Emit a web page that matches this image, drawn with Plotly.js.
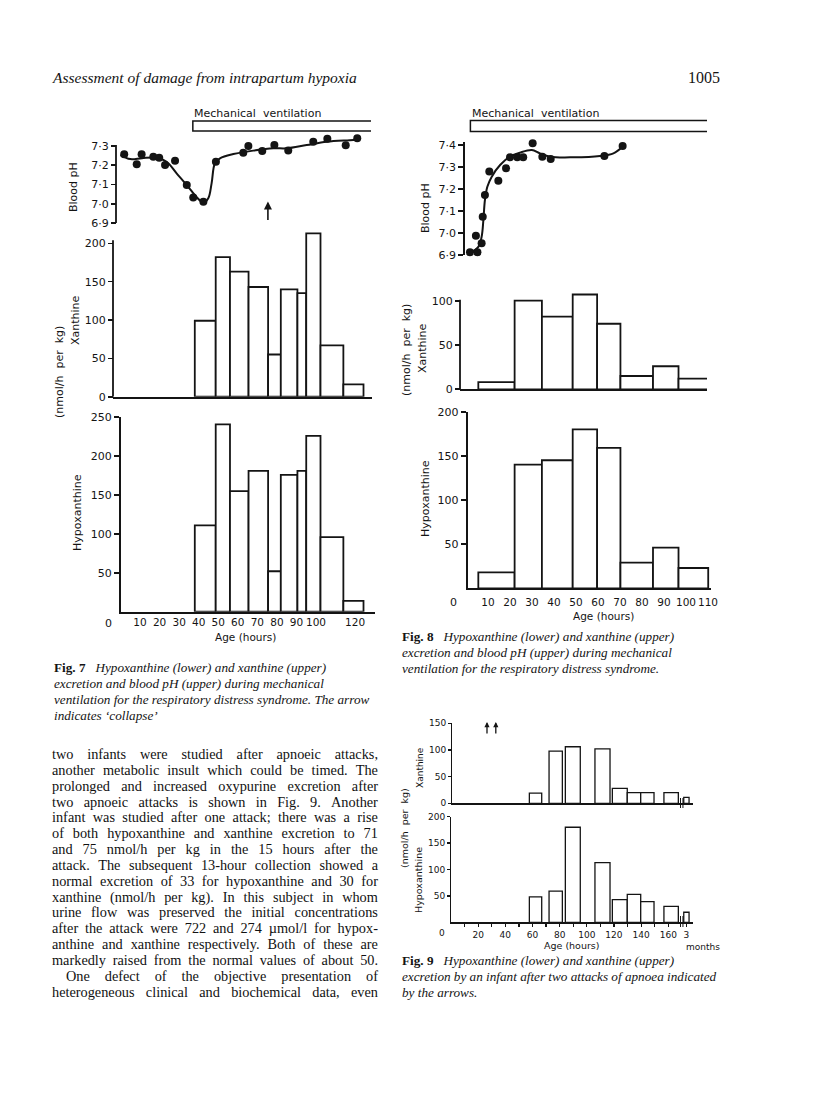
<!DOCTYPE html>
<html><head><meta charset="utf-8">
<script src="https://cdn.plot.ly/plotly-3.0.1.min.js"></script>
<style>
html,body{margin:0;padding:0;background:#fff;}
#page{position:relative;width:816px;height:1096px;overflow:hidden;}
#chart{position:absolute;left:0;top:0;width:816px;height:1096px;}
#body{position:absolute;left:52px;top:747px;width:326px;font-family:"Liberation Serif",serif;font-size:14.3px;color:#111;}
#body .ln{display:flex;justify-content:space-between;white-space:nowrap;height:15.85px;line-height:15.85px;}
#body .ind{padding-left:14px;}
</style></head>
<body><div id="page"><div id="chart"></div><div id="body"></div></div>
<script>
// ---------------- DATA ----------------
// Fig. 7 : blood pH samples (age in hours) and fitted curve
const fig7PhAge = [1.9, 8.3, 10.8, 16.8, 19.8, 22.8, 27.9, 33.9, 37.2, 42.4, 48.8, 62.8, 65.4, 72.5, 78.7, 85.8, 98.6, 105.8, 115.2, 121.1];
const fig7Ph    = [7.257, 7.205, 7.257, 7.244, 7.239, 7.201, 7.224, 7.097, 7.033, 7.011, 7.218, 7.265, 7.30, 7.274, 7.305, 7.276, 7.322, 7.338, 7.304, 7.340];
const fig7CurveAge = [0, 5, 11, 18.5, 23.6, 28.7, 33.9, 39, 42.4, 44.9, 46.6, 48.3, 50.9, 57.7, 67.9, 78.2, 85, 95.2, 105.5, 119.1, 122.5];
const fig7CurvePh  = [7.253, 7.232, 7.237, 7.239, 7.218, 7.158, 7.097, 7.034, 7.005, 7.028, 7.106, 7.21, 7.236, 7.258, 7.276, 7.288, 7.288, 7.305, 7.322, 7.331, 7.335];
// Fig. 7 : urine collection periods (hours) and excretion (nmol/h per kg)
const fig7BinStart = [38.0, 48.7, 56.0, 65.5, 75.5, 82.0, 90.5, 95.0, 102.3, 114.0];
const fig7BinEnd   = [48.7, 56.0, 65.5, 75.5, 82.0, 90.5, 95.0, 102.3, 114.0, 124.3];
const fig7Xanthine     = [99, 182, 163, 143, 55, 140, 135, 213, 67, 16];
const fig7Hypoxanthine = [111, 241, 155, 181, 52, 176, 181, 226, 96, 14];
const fig7VentStart = 37;      // start of mechanical ventilation (h)
const fig7CollapseAge = 75.4;  // arrow: 'collapse'

// Fig. 8
const fig8PhAge = [1.8, 5.2, 4.5, 7.1, 7.6, 8.6, 10.6, 14.7, 18.2, 20, 23.3, 26, 30.3, 34.7, 38.5, 62.9, 71.2];
const fig8Ph    = [6.912, 6.912, 6.988, 6.953, 7.074, 7.173, 7.279, 7.238, 7.294, 7.344, 7.344, 7.344, 7.408, 7.347, 7.336, 7.35, 7.395];
const fig8CurveAge = [1.8, 5.6, 7.1, 7.9, 8.6, 9.7, 11.7, 15.5, 20, 24.5, 29.9, 33.6, 38.2, 48.8, 60.9, 67, 71.2];
const fig8CurvePh  = [6.91, 6.937, 6.983, 7.059, 7.15, 7.21, 7.256, 7.309, 7.347, 7.365, 7.377, 7.362, 7.347, 7.344, 7.35, 7.362, 7.392];
const fig8BinStart = [5.6, 22.1, 34.5, 48.5, 59.6, 70.2, 85.0, 96.6];
const fig8BinEnd   = [22.1, 34.5, 48.5, 59.6, 70.2, 85.0, 96.6, 110.1];
const fig8Xanthine     = [8, 100, 82, 107, 74, 15, 26, 12];
const fig8Hypoxanthine = [18, 140, 145, 180, 159, 29, 46, 23];
const fig8VentStart = 2;

// Fig. 9 (last bin = sample at 3 months, drawn after the axis break)
const fig9BinStart = [57.7, 72.2, 84.2, 106.0, 118.8, 129.8, 139.7, 156.8, 171.4];
const fig9BinEnd   = [66.8, 82.0, 95.2, 117.1, 129.8, 139.7, 149.5, 167.4, 175.3];
const fig9Xanthine     = [19, 98, 106, 102, 28, 20, 20, 20, 11];
const fig9Hypoxanthine = [48, 59, 180, 113, 43, 53, 39, 30, 19];
const fig9ApnoeaAge = [26.5, 33.0];
const fig9BreakAge = 169.0;

// Tick labels
const fig7PhTicks  = [6.9, 7.0, 7.1, 7.2, 7.3];
const fig7PhLabels = ['6·9', '7·0', '7·1', '7·2', '7·3'];
const fig8PhTicks  = [6.9, 7.0, 7.1, 7.2, 7.3, 7.4];
const fig8PhLabels = ['6·9', '7·0', '7·1', '7·2', '7·3', '7·4'];
const fig7AgeTicks  = [10, 20, 30, 40, 50, 60, 70, 80, 90, 100, 120];
const fig7AgeLabels = ['10', '20', '30', '40', '50', '60', '70', '80', '90', '100', '120'];
const fig8AgeTicks  = [10, 20, 30, 40, 50, 60, 70, 80, 90, 100, 110];
const fig8AgeLabels = ['10', '20', '30', '40', '50', '60', '70', '80', '90', '100', '110'];
const fig9AgeTicks  = [10, 20, 30, 40, 50, 60, 70, 80, 90, 100, 110, 120, 130, 140, 150, 160, 173.4];
const fig9AgeLabels = ['', '20', '', '40', '', '60', '', '80', '', '100', '', '120', '', '140', '', '160', '3'];

const bodyLines = [
 'two infants were studied after apnoeic attacks,',
 'another metabolic insult which could be timed. The',
 'prolonged and increased oxypurine excretion after',
 'two apnoeic attacks is shown in Fig. 9. Another',
 'infant was studied after one attack; there was a rise',
 'of both hypoxanthine and xanthine excretion to 71',
 'and 75 nmol/h per kg in the 15 hours after the',
 'attack. The subsequent 13-hour collection showed a',
 'normal excretion of 33 for hypoxanthine and 30 for',
 'xanthine (nmol/h per kg). In this subject in whom',
 'urine flow was preserved the initial concentrations',
 'after the attack were 722 and 274 \u00b5mol/l for hypox-',
 'anthine and xanthine respectively. Both of these are',
 'markedly raised from the normal values of about 50.',
 'One defect of the objective presentation of',
 'heterogeneous clinical and biochemical data, even'
];

// ---------------- LAYOUT HELPERS ----------------
const W = 816, H = 1096;
const INK = '#141414';
const SANS = 'DejaVu Sans';
const SERIF = 'Liberation Serif';
const px = p => p / W;
const py = p => 1 - p / H;

// horizontal pixel scales (pixel of 0 h, pixels per hour)
const S7 = {o: 120.5, k: 1.955};
const S8 = {o: 466, k: 2.2};
const S9 = {o: 451, k: 1.358};
const xr = (S, a, b) => [(a - S.o) / S.k, (b - S.o) / S.k];

function xax(S, a, b, anchor, extra) {
  return Object.assign({domain: [px(a), px(b)], range: xr(S, a, b), anchor: anchor,
    showgrid: false, zeroline: false, showline: true, linecolor: INK, linewidth: 1.8,
    ticks: '', showticklabels: false, tickangle: 0, fixedrange: true}, extra || {});
}
function yax(bot, top, range, posPx, extra) {
  return Object.assign({domain: [py(bot), py(top)], range: range, anchor: 'free', position: px(posPx),
    showgrid: false, zeroline: false, showline: true, linecolor: INK, linewidth: 1.8,
    ticks: 'outside', ticklen: 5, tickwidth: 1.6, tickcolor: INK,
    tickfont: {family: SANS, size: 11, color: INK}, fixedrange: true}, extra || {});
}
function bars(st, en, v, xa, ya, lw) {
  return {type: 'bar', x: st.map((s, i) => (s + en[i]) / 2), y: v, width: st.map((s, i) => en[i] - s),
    xaxis: xa, yaxis: ya, marker: {color: '#fff', line: {color: INK, width: lw}},
    hoverinfo: 'skip', showlegend: false};
}
function dots(x, y, xa, ya) {
  return {type: 'scatter', mode: 'markers', x: x, y: y, xaxis: xa, yaxis: ya, cliponaxis: false,
    marker: {color: INK, size: 8}, hoverinfo: 'skip', showlegend: false};
}
function curve(x, y, xa, ya) {
  return {type: 'scatter', mode: 'lines', x: x, y: y, xaxis: xa, yaxis: ya, cliponaxis: false,
    line: {color: INK, width: 2, shape: 'spline', smoothing: 1}, hoverinfo: 'skip', showlegend: false};
}
function txt(t, x, y, o) {
  o = o || {};
  return {text: t, x: px(x), y: py(y), xref: 'paper', yref: 'paper', showarrow: false,
    xanchor: o.xa || 'left', yanchor: 'middle', textangle: o.rot || 0,
    font: {family: o.family || SANS, size: o.size || 11, color: INK}};
}
function ventBar(S, hStart, rightPx, top, bot) {
  const l = px(S.o + S.k * hStart), r = px(rightPx);
  return {type: 'path', xref: 'paper', yref: 'paper',
    path: `M ${r},${py(top)} L ${l},${py(top)} L ${l},${py(bot)} L ${r},${py(bot)}`,
    line: {color: INK, width: 1.5}};
}
function spine(ya, posPx, y0, y1) {
  return {type: 'line', xref: 'paper', yref: ya, x0: px(posPx), x1: px(posPx), y0: y0, y1: y1,
    line: {color: INK, width: 1.8}};
}
function breakMark(xa, h, top, bot) {
  return {type: 'line', xref: xa, yref: 'paper', x0: h, x1: h, y0: py(bot), y1: py(top), line: {color: INK, width: 1}};
}
function upArrow(xa, h, tipPx, len, size, w) {
  return {text: '', x: h, y: py(tipPx), xref: xa, yref: 'paper', showarrow: true, ax: 0, ay: len,
    arrowhead: 2, arrowsize: size, arrowwidth: w, arrowcolor: INK};
}

// ---------------- TRACES ----------------
const data = [
  curve(fig7CurveAge, fig7CurvePh, 'x', 'y'),
  dots(fig7PhAge, fig7Ph, 'x', 'y'),
  bars(fig7BinStart, fig7BinEnd, fig7Xanthine, 'x2', 'y2', 1.8),
  bars(fig7BinStart, fig7BinEnd, fig7Hypoxanthine, 'x3', 'y3', 1.8),
  curve(fig8CurveAge, fig8CurvePh, 'x4', 'y4'),
  dots(fig8PhAge, fig8Ph, 'x4', 'y4'),
  bars(fig8BinStart, fig8BinEnd, fig8Xanthine, 'x5', 'y5', 1.8),
  bars(fig8BinStart, fig8BinEnd, fig8Hypoxanthine, 'x6', 'y6', 1.8),
  bars(fig9BinStart, fig9BinEnd, fig9Xanthine, 'x7', 'y7', 1.3),
  bars(fig9BinStart, fig9BinEnd, fig9Hypoxanthine, 'x8', 'y8', 1.3)
];

const f9tick = {family: SANS, size: 9, color: INK};

const layout = {
  width: W, height: H, margin: {l: 0, r: 0, t: 0, b: 0},
  paper_bgcolor: '#fff', plot_bgcolor: 'rgba(0,0,0,0)', barmode: 'overlay', showlegend: false,
  font: {family: SANS, color: INK},
  // Fig. 7
  xaxis:  xax(S7, 116, 375, 'y', {visible: false}),
  yaxis:  yax(223, 135, [6.9, 6.9 + 88 / 192.5], 116, {showline: false, tickvals: fig7PhTicks, ticktext: fig7PhLabels}),
  xaxis2: xax(S7, 113, 372, 'y2'),
  yaxis2: yax(396.7, 231, [0, (396.7 - 231) / 0.767], 113, {showline: false, tickvals: [0, 50, 100, 150, 200]}),
  xaxis3: xax(S7, 119, 375, 'y3', {showticklabels: true, ticks: '',
           tickvals: fig7AgeTicks, ticktext: fig7AgeLabels, tickfont: {family: SANS, size: 10.5, color: INK}}),
  yaxis3: yax(611.7, 417.3, [0, 250], 119, {tickvals: [50, 100, 150, 200, 250]}),
  // Fig. 8
  xaxis4: xax(S8, 463.3, 711, 'y4', {visible: false}),
  yaxis4: yax(255, 142, [6.9, 6.9 + 113 / 220], 463.3, {tickvals: fig8PhTicks, ticktext: fig8PhLabels}),
  xaxis5: xax(S8, 460, 707, 'y5'),
  yaxis5: yax(389.3, 293, [0, (389.3 - 293) / 0.886], 460, {showline: false, tickvals: [0, 50, 100]}),
  xaxis6: xax(S8, 465.7, 711, 'y6', {showticklabels: true, ticks: 'outside', ticklen: 3, tickcolor: 'rgba(0,0,0,0)',
           tickvals: fig8AgeTicks, ticktext: fig8AgeLabels, tickfont: {family: SANS, size: 10.5, color: INK}}),
  yaxis6: yax(588.3, 411.7, [0, 200], 465.7, {tickvals: [50, 100, 150, 200]}),
  // Fig. 9
  xaxis7: xax(S9, 451, 693, 'y7', {linewidth: 1.4}),
  yaxis7: yax(803.3, 723.3, [0, 150], 451, {linewidth: 1.4, ticklen: 3, tickwidth: 1.2, tickvals: [0, 50, 100, 150], tickfont: f9tick}),
  xaxis8: xax(S9, 450, 693, 'y8', {linewidth: 1.4, showticklabels: true, ticks: 'outside', ticklen: 3, tickwidth: 1.2, tickcolor: INK,
           tickvals: fig9AgeTicks, ticktext: fig9AgeLabels, tickfont: f9tick}),
  yaxis8: yax(922.3, 816.7, [0, 200], 450, {linewidth: 1.4, ticklen: 3, tickwidth: 1.2, tickvals: [50, 100, 150, 200], tickfont: f9tick}),
  shapes: [
    spine('y', 116, 6.9, 7.305),
    spine('y2', 113, 0, 204),
    spine('y5', 460, 0, 101),
    ventBar(S7, fig7VentStart, 371, 121, 131),
    ventBar(S8, fig8VentStart, 707, 120.5, 131.5),
    // axis break marks (Fig. 9)
    breakMark('x7', fig9BreakAge, 798, 808),
    breakMark('x7', fig9BreakAge + 1.8, 798, 808),
    breakMark('x8', fig9BreakAge, 916, 927),
    breakMark('x8', fig9BreakAge + 1.8, 916, 927)
  ],
  annotations: [
    // running head
    txt('<i>Assessment of damage from intrapartum hypoxia</i>', 50, 77, {family: SERIF, size: 15.5}),
    txt('1005', 722, 77, {family: SERIF, size: 16, xa: 'right'}),
    // Fig. 7 labels
    txt('Mechanical  ventilation', 192, 113, {size: 11}),
    txt('Blood pH', 73, 187, {rot: -90, xa: 'center', size: 11}),
    txt('Xanthine', 75, 320, {rot: -90, xa: 'center', size: 11}),
    txt('(nmol/h  per  kg)', 59, 372, {rot: -90, xa: 'center', size: 11}),
    txt('Hypoxanthine', 77, 513, {rot: -90, xa: 'center', size: 11}),
    txt('Age (hours)', 245, 637, {xa: 'center', size: 10.5}),
    txt('0', 108, 623, {xa: 'center', size: 11}),
    upArrow('x', fig7CollapseAge, 201.5, 20, 1, 1.6),
    // Fig. 8 labels
    txt('Mechanical  ventilation', 470, 113, {size: 11}),
    txt('Blood pH', 425, 208, {rot: -90, xa: 'center', size: 11}),
    txt('Xanthine', 422, 348, {rot: -90, xa: 'center', size: 11}),
    txt('(nmol/h  per  kg)', 407, 350, {rot: -90, xa: 'center', size: 11}),
    txt('Hypoxanthine', 425, 499, {rot: -90, xa: 'center', size: 11}),
    txt('Age (hours)', 603, 616, {xa: 'center', size: 10.5}),
    txt('0', 453, 602, {xa: 'center', size: 11}),
    // Fig. 9 labels
    txt('Xanthine', 420, 767, {rot: -90, xa: 'center', size: 9}),
    txt('(nmol/h  per  kg)', 404, 828, {rot: -90, xa: 'center', size: 9.5}),
    txt('Hypoxanthine', 418, 880, {rot: -90, xa: 'center', size: 9.5}),
    txt('Age (hours)', 572, 945, {xa: 'center', size: 9.5}),
    txt('months', 684, 947, {size: 9}),
    txt('0', 442, 933, {xa: 'center', size: 9}),
    upArrow('x7', fig9ApnoeaAge[0], 722, 13, 0.8, 1.3),
    upArrow('x7', fig9ApnoeaAge[1], 722, 13, 0.8, 1.3),
    // captions
    txt('<b>Fig. 7</b>\u00a0\u00a0\u00a0<i>Hypoxanthine (lower) and xanthine (upper)</i>', 52, 667, {family: SERIF, size: 13.2}),
    txt('<i>excretion and blood pH (upper) during mechanical</i>', 52, 683, {family: SERIF, size: 13.2}),
    txt('<i>ventilation for the respiratory distress syndrome. The arrow</i>', 52, 699, {family: SERIF, size: 13.2}),
    txt('<i>indicates \u2018collapse\u2019</i>', 52, 715, {family: SERIF, size: 13.2}),
    txt('<b>Fig. 8</b>\u00a0\u00a0\u00a0<i>Hypoxanthine (lower) and xanthine (upper)</i>', 400, 636, {family: SERIF, size: 13.2}),
    txt('<i>excretion and blood pH (upper) during mechanical</i>', 400, 652, {family: SERIF, size: 13.2}),
    txt('<i>ventilation for the respiratory distress syndrome.</i>', 400, 668, {family: SERIF, size: 13.2}),
    txt('<b>Fig. 9</b>\u00a0\u00a0\u00a0<i>Hypoxanthine (lower) and xanthine (upper)</i>', 400, 960, {family: SERIF, size: 13.2}),
    txt('<i>excretion by an infant after two attacks of apnoea indicated</i>', 400, 976, {family: SERIF, size: 13.2}),
    txt('<i>by the arrows.</i>', 400, 992, {family: SERIF, size: 13.2})
  ]
};

Plotly.newPlot('chart', data, layout, {staticPlot: true, displayModeBar: false});

// body text, justified line by line
const bodyEl = document.getElementById('body');
bodyLines.forEach((line, i) => {
  const d = document.createElement('div');
  d.className = 'ln' + (i === 14 ? ' ind' : '');
  line.split(' ').forEach(w => { const s = document.createElement('span'); s.textContent = w; d.appendChild(s); });
  bodyEl.appendChild(d);
});
</script></body></html>
